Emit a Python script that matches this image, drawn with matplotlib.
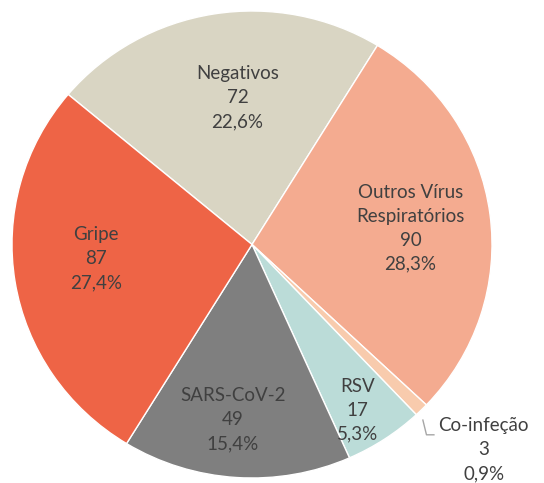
import matplotlib.pyplot as plt
import numpy as np

# dados
categorias = ['Negativos', 'Outros Vírus\nRespiratórios', 'Co-infeção', 'RSV', 'SARS-CoV-2', 'Gripe']
valores = [72, 90, 3, 17, 49, 87]
cores = ['#D9D5C3', '#F4AB90', '#F8CBAD', '#BBDCD8', '#7F7F7F', '#EE6446']

# posicao dos rotulos (coordenadas do eixo)
pos_rotulos = [(-0.06, 0.63), (0.66, 0.07), (0.965, -0.88), (0.44, -0.71), (-0.08, -0.75), (-0.65, -0.06)]

total = sum(valores)
plt.rcParams['font.family'] = ['Lato', 'DejaVu Sans']

fig = plt.figure(figsize=(5.44, 4.83), dpi=100)
ax = fig.add_axes([12 / 544, 5 / 483, 480 / 544, 467 / 483])
ax.pie(valores, colors=cores, startangle=140, counterclock=False,
       wedgeprops=dict(edgecolor='white', linewidth=1))
ax.set_aspect('auto')
ax.set_xlim(-1, 1)
ax.set_ylim(-1, 1)
ax.axis('off')

for cat, v, (x, y) in zip(categorias, valores, pos_rotulos):
    pct = f'{v / total * 100:.1f}'.replace('.', ',')
    ax.text(x, y, f'{cat}\n{v}\n{pct}%', ha='center', va='center',
            fontsize=13.5, color='#404040', linespacing=1.5, clip_on=False)

# linha guia co-infecao
ax.plot([0.712, 0.727, 0.758], [-0.752, -0.815, -0.815], color='#A6A6A6', lw=1, clip_on=False)

fig.savefig('out.png')
